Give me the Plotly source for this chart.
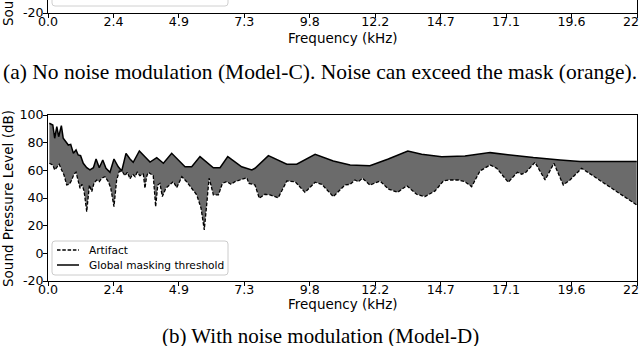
import plotly.graph_objects as go

# ---------------- data ----------------
thr_khz = [0.05,0.18,0.25,0.33,0.40,0.50,0.57,0.67,0.76,0.85,0.95,1.05,1.13,1.22,1.32,1.45,1.57,1.70,1.80,1.92,
           2.05,2.17,2.32,2.47,2.63,2.76,2.92,3.07,3.19,3.42,3.63,3.82,4.07,4.32,4.63,5.13,5.38,5.69,6.19,6.44,
           6.73,7.25,7.63,7.75,8.25,8.94,9.31,10.00,10.68,11.31,12.05,12.74,13.47,13.99,14.74,15.61,16.55,17.30,
           18.17,19.17,19.92,22.04]
thr_db = [94,92.8,83.2,91.6,84.3,92.3,83.2,80.7,78.3,78.8,72.3,74.7,71.1,70.6,65.1,61.9,60.3,61.9,68.2,61.9,
          67.5,61.5,58.6,68.2,62.6,59.5,72.3,68.2,65.8,74.0,69.5,66.0,69.2,65.1,72.3,62.6,62.6,69.9,61.9,61.9,
          69.9,62.6,60.3,61.5,70.6,64.4,64.4,71.6,66.8,63.9,63.4,68.2,74.0,71.6,69.9,70.4,72.8,71.1,
          69.2,67.5,66.3,66.3]

art_khz = [0.05,0.18,0.25,0.33,0.42,0.51,0.60,0.70,0.80,0.89,0.97,1.05,1.12,1.20,1.27,1.35,1.45,1.55,1.64,1.72,
           1.82,1.92,2.01,2.13,2.26,2.35,2.47,2.57,2.67,2.80,2.88,2.97,3.07,3.17,3.26,3.34,3.44,3.57,3.63,3.69,
           3.75,3.94,4.03,4.11,4.19,4.28,4.41,4.57,4.69,4.82,5.01,5.19,5.38,5.57,5.73,5.85,5.94,6.03,6.10,6.19,
           6.38,6.53,6.69,6.85,7.00,7.31,7.44,7.52,7.75,7.91,8.12,8.31,8.62,8.94,9.25,9.62,10.00,10.25,10.68,11.12,
           11.31,11.49,11.62,11.77,12.05,12.43,12.74,13.09,13.43,13.80,14.11,14.49,14.80,14.99,15.36,15.61,15.86,
           16.17,16.55,16.80,16.98,17.23,17.57,17.73,17.89,18.23,18.61,18.94,19.29,19.54,19.98,22.04]
art_db = [65.1,63.9,60.3,62.6,64.4,60.3,56.6,49.4,49.9,53.0,57.2,58.6,53.0,47.0,49.9,45.1,30.1,49.4,44.6,50.6,
          53.0,51.8,54.3,55.4,51.8,47.0,33.7,53.0,59.5,58.6,56.1,58.6,53.8,57.2,55.4,58.6,56.1,57.2,47.0,55.4,
          58.6,56.1,33.7,49.4,50.6,41.0,47.0,49.4,51.8,47.5,55.4,51.8,47.0,42.2,32.6,16.9,35.0,54.3,49.4,42.2,
          42.2,50.6,51.8,49.9,51.8,53.8,54.7,50.6,49.4,39.8,42.7,42.2,40.2,52.3,51.8,44.1,51.4,49.9,41.0,49.4,
          49.9,53.0,51.8,54.3,49.4,52.3,46.5,44.1,48.9,42.7,41.0,45.1,52.3,53.0,53.0,51.8,48.2,
          59.5,63.9,61.5,57.2,51.4,58.6,57.2,58.6,65.8,53.0,65.1,49.4,53.0,61.5,35.0]

x_tick_vals = [0, 2.45, 4.9, 7.35, 9.8, 12.25, 14.7, 17.15, 19.6, 22.05]
x_tick_text = ["0.0", "2.4", "4.9", "7.3", "9.8", "12.2", "14.7", "17.1", "19.6", "22.0"]
y_tick_vals = [-20, 0, 20, 40, 60, 80, 100]
y_tick_text = ["-20", "0", "20", "40", "60", "80", "100"]

series_names = ["Artifact", "Global masking threshold"]
caption_a = "(a) No noise modulation (Model-C). Noise can exceed the mask (orange)."
caption_b = "(b) With noise modulation (Model-D)"
x_title = "Frequency (kHz)"
y_title = "Sound Pressure Level (dB)"

# ---------------- layout helpers ----------------
W, H = 640, 346
def px(x):
    return x / W
def py(y):
    return 1 - y / H

SANS = "DejaVu Sans"
SERIF = "Liberation Serif"
FILL = "#6b6b6b"
DASH = "3.5px,1.8px"
TOP_AXIS = 13  # pixel row of panel (a)'s x axis

fig = go.Figure()

# fill between artifact and threshold
fig.add_trace(go.Scatter(x=art_khz, y=art_db, mode="lines", line=dict(width=0, color=FILL),
                         showlegend=False, hoverinfo="skip", xaxis="x", yaxis="y"))
fig.add_trace(go.Scatter(x=thr_khz, y=thr_db, mode="lines", line=dict(width=0, color=FILL),
                         fill="tonexty", fillcolor=FILL, showlegend=False, hoverinfo="skip",
                         xaxis="x", yaxis="y"))
# lines
fig.add_trace(go.Scatter(x=art_khz, y=art_db, mode="lines", name=series_names[0], showlegend=False,
                         line=dict(color="black", width=1.3, dash=DASH), xaxis="x", yaxis="y"))
fig.add_trace(go.Scatter(x=thr_khz, y=thr_db, mode="lines", name=series_names[1], showlegend=False,
                         line=dict(color="black", width=1.5), xaxis="x", yaxis="y"))

# panel (a) remnant: empty trace to attach the axes
fig.add_trace(go.Scatter(x=[None], y=[None], showlegend=False, xaxis="x2", yaxis="y2"))

ax_common = dict(showgrid=False, zeroline=False, showline=True, linecolor="black", linewidth=1,
                 ticks="outside", ticklen=4, tickwidth=1, tickcolor="black", automargin=False,
                 tickfont=dict(family=SANS, size=12.6, color="black"))
x_extra = dict(ticklabeloverflow="allow", ticklabelstandoff=-7)
y_extra = dict(ticklabelstandoff=-3)

# panel (b) plot area: x 48..637, y 115..281
fig.update_layout(
    template="none",
    width=W, height=H, margin=dict(l=0, r=0, t=0, b=0, pad=0),
    paper_bgcolor="white", plot_bgcolor="white",
    xaxis=dict(domain=[px(48), px(637)], range=[0, 22.05], tickvals=x_tick_vals, ticktext=x_tick_text,
               mirror=True, anchor="y", **x_extra, **ax_common),
    yaxis=dict(domain=[py(281), py(115)], range=[-20, 100], tickvals=y_tick_vals, ticktext=y_tick_text,
               mirror=True, anchor="x", **y_extra, **ax_common),
    xaxis2=dict(domain=[px(48), px(637)], range=[0, 22.05], tickvals=x_tick_vals, ticktext=x_tick_text,
                mirror=False, anchor="y2", **x_extra, **ax_common),
    yaxis2=dict(domain=[py(TOP_AXIS), 1], range=[-20, -20 + TOP_AXIS / 1.383], tickvals=y_tick_vals,
                ticktext=y_tick_text, mirror=True, anchor="x2", **y_extra, **ax_common),
    showlegend=False,
)

annotations = [
    dict(text=x_title, x=px(342.5), y=py(304), xref="paper", yref="paper", showarrow=False,
         xanchor="center", yanchor="middle", font=dict(family=SANS, size=13.5, color="black")),
    dict(text=y_title, x=px(8), y=py(199), xref="paper", yref="paper", showarrow=False, textangle=-90,
         xanchor="center", yanchor="middle", font=dict(family=SANS, size=13.5, color="black")),
    dict(text=caption_b, x=0.5, y=py(336), xref="paper", yref="paper", showarrow=False,
         xanchor="center", yanchor="middle", font=dict(family=SERIF, size=21, color="black")),
    # panel (a) remnants
    dict(text=x_title, x=px(342.5), y=py(38), xref="paper", yref="paper", showarrow=False,
         xanchor="center", yanchor="middle", font=dict(family=SANS, size=13.5, color="black")),
    dict(text=y_title, x=px(8), y=py(-62), xref="paper", yref="paper", showarrow=False, textangle=-90,
         xanchor="center", yanchor="middle", font=dict(family=SANS, size=13.5, color="black")),
    dict(text=caption_a, x=0.5, y=py(72), xref="paper", yref="paper", showarrow=False,
         xanchor="center", yanchor="middle", font=dict(family=SERIF, size=21.5, color="black")),
    # legend texts of panel (b)
    dict(text=series_names[0], x=px(87), y=py(250), xref="paper", yref="paper", showarrow=False,
         xanchor="left", yanchor="middle", font=dict(family=SANS, size=10.6, color="black")),
    dict(text=series_names[1], x=px(87), y=py(265), xref="paper", yref="paper", showarrow=False,
         xanchor="left", yanchor="middle", font=dict(family=SANS, size=10.6, color="black")),
]
fig.update_layout(annotations=annotations)

def rounded_box(xl, xr, yt, yb, r=3):
    x0, x1, y0, y1 = px(xl), px(xr), py(yt), py(yb)
    rx, ry = r / W, r / H
    return (f"M {x0 + rx},{y0} L {x1 - rx},{y0} Q {x1},{y0} {x1},{y0 - ry} "
            f"L {x1},{y1 + ry} Q {x1},{y1} {x1 - rx},{y1} "
            f"L {x0 + rx},{y1} Q {x0},{y1} {x0},{y1 + ry} "
            f"L {x0},{y0 - ry} Q {x0},{y0} {x0 + rx},{y0} Z")

# legend box of panel (b)
fig.add_shape(type="path", path=rounded_box(52, 228, 241, 275), xref="paper", yref="paper",
              line=dict(color="#cccccc", width=1), fillcolor="rgba(255,255,255,0.8)", layer="above")
fig.add_shape(type="line", x0=px(57), x1=px(79), y0=py(250), y1=py(250), xref="paper", yref="paper",
              line=dict(color="black", width=1.3, dash=DASH), layer="above")
fig.add_shape(type="line", x0=px(57), x1=px(79), y0=py(265), y1=py(265), xref="paper", yref="paper",
              line=dict(color="black", width=1.5), layer="above")

# partial legend box of panel (a) (only its bottom edge is visible)
fig.add_shape(type="path", path=rounded_box(52, 228, -30, 6), xref="paper", yref="paper",
              line=dict(color="#d0d0d0", width=1), fillcolor="rgba(255,255,255,0.8)", layer="above")

fig.write_html("out.html", config={"displayModeBar": False},
               post_script="document.body.style.margin='0';document.body.style.overflow='hidden';")
